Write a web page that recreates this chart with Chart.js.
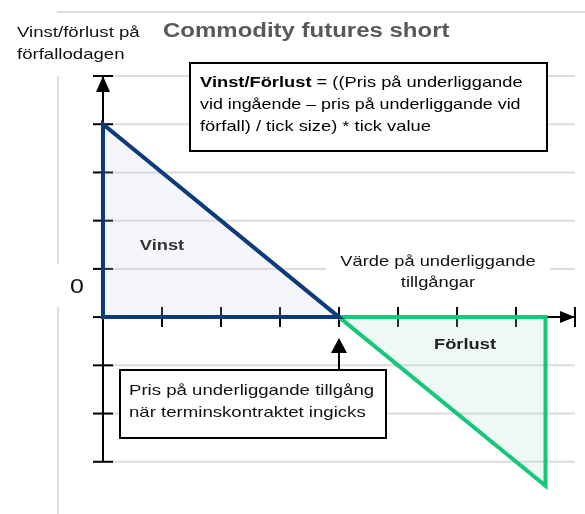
<!doctype html>
<html lang="sv">
<head>
  <meta charset="utf-8">
  <title>Commodity futures short</title>
  <script src="https://cdn.jsdelivr.net/npm/chart.js"></script>
  <style>
    html, body { margin: 0; padding: 0; background: #fff; }
    canvas { display: block; }
  </style>
</head>
<body>
<canvas id="myChart" width="585" height="514"></canvas>
<script>
// Utfall vid förfall: vinst när priset faller under ingångspriset, förlust när det stiger
const vinstX = [0, 0, 4, 0];
const vinstY = [0, 4, 0, 0];
const forlustX = [4, 7.5, 7.5, 4];
const forlustY = [0, -3.5, 0, 0];

// tickmarkeringar på axlarna (sista är pilspetsen)
const xTicks = [0, 1, 2, 3, 4, 5, 6, 7, 8];
const yTicks = [-3, -2, -1, 0, 1, 2, 3, 4, 5];
const entryPrice = 4;

// texten i bilden är horisontellt utdragen
const SX = 1.22;
const FONT = '"Liberation Sans", Arial, sans-serif';
const BODY = 15;

function txt(ctx, s, x, y, size, opt) {
  opt = opt || {};
  ctx.save();
  ctx.translate(x, y);
  ctx.scale(opt.sx || SX, 1);
  ctx.font = (opt.bold ? 'bold ' : '') + size + 'px ' + FONT;
  ctx.fillStyle = opt.color || '#000';
  ctx.textAlign = opt.align || 'left';
  ctx.textBaseline = 'middle';
  ctx.fillText(s, 0, 0);
  ctx.restore();
}

function box(ctx, x1, y1, x2, y2) {
  ctx.save();
  ctx.fillStyle = '#fff';
  ctx.fillRect(x1, y1, x2 - x1, y2 - y1);
  ctx.strokeStyle = '#000';
  ctx.lineWidth = 2;
  ctx.strokeRect(x1, y1, x2 - x1, y2 - y1);
  ctx.restore();
}

function line(ctx, x1, y1, x2, y2, color, w) {
  ctx.beginPath();
  ctx.moveTo(x1, y1);
  ctx.lineTo(x2, y2);
  ctx.strokeStyle = color;
  ctx.lineWidth = w;
  ctx.stroke();
}

const decor = {
  id: 'decor',
  beforeDatasetsDraw(chart) {
    const ctx = chart.ctx;
    const a = chart.chartArea;
    const xs = chart.scales.x, ys = chart.scales.y;
    const x0 = xs.getPixelForValue(0), y0 = ys.getPixelForValue(0);
    const yTop = ys.getPixelForValue(yTicks[yTicks.length - 1]);
    const yBot = ys.getPixelForValue(yTicks[0]);
    const xEnd = xs.getPixelForValue(xTicks[xTicks.length - 1]);
    ctx.save();
    // ram och stödlinjer
    line(ctx, a.left - 46, a.top - 64, chart.width, a.top - 64, '#dedede', 2);
    line(ctx, a.left - 45, yTop, a.left - 45, chart.height, '#dedede', 2);
    yTicks.forEach(v => {
      const y = ys.getPixelForValue(v);
      line(ctx, a.left, y, a.right, y, '#dcdcdc', 2);
    });
    // axlar
    line(ctx, x0, yTop, x0, yBot, '#000', 2);
    line(ctx, x0, y0, xEnd, y0, '#000', 2);
    yTicks.forEach(v => {
      const y = ys.getPixelForValue(v);
      line(ctx, x0 - 10, y, x0 + 10, y, '#000', 2);
    });
    xTicks.forEach(v => {
      const x = xs.getPixelForValue(v);
      line(ctx, x, y0 - 10, x, y0 + 10, '#000', 2);
    });
    // pilspetsar
    ctx.fillStyle = '#000';
    ctx.beginPath();
    ctx.moveTo(x0, yTop);
    ctx.lineTo(x0 - 7, yTop + 16);
    ctx.lineTo(x0 + 7, yTop + 16);
    ctx.closePath();
    ctx.fill();
    ctx.beginPath();
    ctx.moveTo(xEnd, y0);
    ctx.lineTo(xEnd - 15, y0 - 6);
    ctx.lineTo(xEnd - 15, y0 + 6);
    ctx.closePath();
    ctx.fill();
    ctx.restore();
  },
  afterDatasetsDraw(chart) {
    const ctx = chart.ctx;
    const xs = chart.scales.x, ys = chart.scales.y;
    const y0 = ys.getPixelForValue(0);
    ctx.save();

    txt(ctx, 'Vinst/förlust på', 17, 33, BODY, {color: '#111', sx: 1.24});
    txt(ctx, 'förfallodagen', 17, 55, BODY, {color: '#111', sx: 1.24});
    txt(ctx, 'Commodity futures short', 163, 32, 19.5, {bold: true, color: '#595959', sx: 1.23});

    // formel
    box(ctx, 190, 63, 547, 151);
    ctx.save();
    ctx.font = 'bold ' + BODY + 'px ' + FONT;
    const wB = ctx.measureText('Vinst/Förlust').width * SX;
    ctx.restore();
    txt(ctx, 'Vinst/Förlust', 200, 83, BODY, {bold: true});
    txt(ctx, ' = ((Pris på underliggande', 200 + wB, 83, BODY);
    txt(ctx, 'vid ingående – pris på underliggande vid', 200, 105, BODY, {sx: 1.19});
    txt(ctx, 'förfall) / tick size) * tick value', 200, 127, BODY);

    // nollnivå
    ctx.fillStyle = '#fff';
    ctx.fillRect(50, 264, 42, 43);
    txt(ctx, '0', 77, 287, 20.5, {align: 'center', color: '#111'});

    txt(ctx, 'Vinst', 162, 246, BODY, {bold: true, align: 'center', color: '#333'});
    txt(ctx, 'Förlust', 465, 345, BODY, {bold: true, align: 'center', color: '#222'});

    ctx.fillStyle = '#fff';
    ctx.fillRect(326, 252, 224, 42);
    txt(ctx, 'Värde på underliggande', 438, 262, BODY, {align: 'center', color: '#111'});
    txt(ctx, 'tillgångar', 438, 283, BODY, {align: 'center', color: '#111'});

    // ingångspris med pil
    const xe = xs.getPixelForValue(entryPrice);
    line(ctx, xe, 370, xe, y0 + 30, '#000', 2);
    ctx.fillStyle = '#000';
    ctx.beginPath();
    ctx.moveTo(xe, y0 + 21);
    ctx.lineTo(xe - 8, y0 + 36);
    ctx.lineTo(xe + 8, y0 + 36);
    ctx.closePath();
    ctx.fill();
    box(ctx, 120, 370, 386, 438);
    txt(ctx, 'Pris på underliggande tillgång', 129, 391, BODY, {color: '#111', sx: 1.24});
    txt(ctx, 'när terminskontraktet ingicks', 129, 413, BODY, {color: '#111', sx: 1.24});

    ctx.restore();
  }
};

const ctx = document.getElementById('myChart').getContext('2d');
const myChart = new Chart(ctx, {
  type: 'scatter',
  data: {
    datasets: [{
      label: 'Vinst',
      data: vinstX.map((x, i) => ({x: x, y: vinstY[i]})),
      showLine: true,
      fill: 'shape',
      backgroundColor: 'rgba(200, 212, 232, 0.2)',
      borderColor: '#0b3b7b',
      borderWidth: 4,
      borderJoinStyle: 'miter',
      borderCapStyle: 'square',
      pointRadius: 0,
      tension: 0,
      clip: false
    }, {
      label: 'Förlust',
      data: forlustX.map((x, i) => ({x: x, y: forlustY[i]})),
      showLine: true,
      fill: 'shape',
      backgroundColor: 'rgba(180, 225, 205, 0.22)',
      borderColor: '#17c87a',
      borderWidth: 4,
      borderJoinStyle: 'miter',
      borderCapStyle: 'square',
      pointRadius: 0,
      tension: 0,
      clip: false
    }]
  },
  options: {
    responsive: false,
    animation: false,
    devicePixelRatio: 1,
    layout: { padding: { left: 103, right: 10, top: 76, bottom: 4 } },
    scales: {
      x: { type: 'linear', min: 0, max: 8, display: false },
      y: { type: 'linear', min: -4, max: 5, display: false }
    },
    plugins: {
      legend: { display: false },
      tooltip: { enabled: false }
    }
  },
  plugins: [decor]
});
</script>
</body>
</html>
